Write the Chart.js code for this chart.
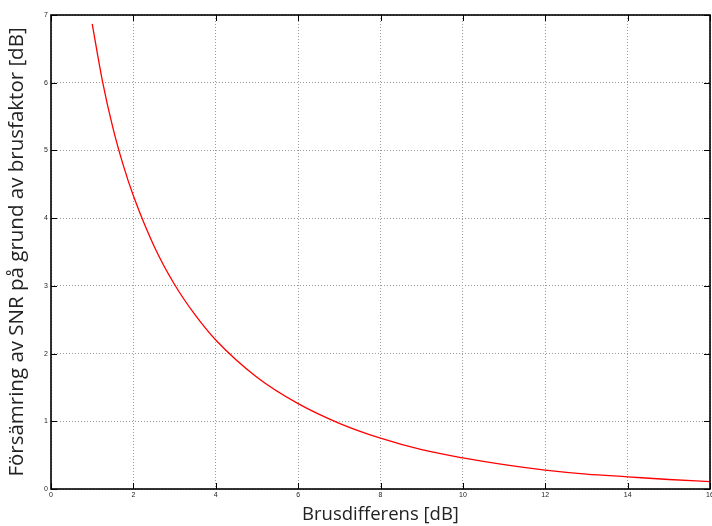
<!DOCTYPE html>
<html>
<head>
<meta charset="utf-8">
<script src="https://cdn.jsdelivr.net/npm/chart.js@4"></script>
<style>
  html, body { margin: 0; padding: 0; background: #fff; }
  canvas { display: block; }
</style>
</head>
<body>
<canvas id="chart" width="712" height="526"></canvas>
<script>
// --- Data ---
const brusdiff = [1, 1.25, 1.5, 1.75, 2, 2.5, 3, 3.5, 4, 5, 6, 7, 8, 9, 10, 11, 12, 13, 14, 15, 16];
const degradation = [6.87, 6.02, 5.34, 4.79, 4.33, 3.59, 3.02, 2.57, 2.20, 1.65, 1.26, 0.97, 0.75, 0.58, 0.46, 0.36, 0.28, 0.22, 0.18, 0.14, 0.11];
const xTicks = [0, 2, 4, 6, 8, 10, 12, 14, 16];
const yTicks = [0, 1, 2, 3, 4, 5, 6, 7];

const xTitle = 'Brusdifferens [dB]';
const yTitle = 'Försämring av SNR på grund av brusfaktor [dB]';

const X_TITLE_FONT = { family: "'Open Sans', sans-serif", size: 18.5 };
const Y_TITLE_FONT = { family: "'Open Sans', sans-serif", size: 20.5 };
const TICK_FONT = { family: "'Liberation Sans', Arial, sans-serif", size: 7 };

// frame + inward tick marks, like the matlab box
const framePlugin = {
    id: 'frame',
    afterDatasetsDraw(chart) {
        const { ctx, chartArea: a, scales } = chart;
        ctx.save();
        ctx.strokeStyle = '#000';
        ctx.lineWidth = 1;
        const len = 6;
        xTicks.forEach(v => {
            const px = Math.round(scales.x.getPixelForValue(v)) + 0.5;
            ctx.beginPath();
            ctx.moveTo(px, a.bottom); ctx.lineTo(px, a.bottom - len);
            ctx.moveTo(px, a.top); ctx.lineTo(px, a.top + len);
            ctx.stroke();
        });
        yTicks.forEach(v => {
            const py = Math.round(scales.y.getPixelForValue(v)) + 0.5;
            ctx.beginPath();
            ctx.moveTo(a.left, py); ctx.lineTo(a.left + len, py);
            ctx.moveTo(a.right, py); ctx.lineTo(a.right - len, py);
            ctx.stroke();
        });
        ctx.lineWidth = 1.6;
        ctx.strokeRect(a.left, a.top, a.right - a.left, a.bottom - a.top);
        ctx.restore();
    }
};

const points = brusdiff.map((x, i) => ({ x: x, y: degradation[i] }));

new Chart(document.getElementById('chart'), {
    type: 'line',
    data: {
        datasets: [{
            data: points,
            borderColor: '#ff0000',
            borderWidth: 1.3,
            pointRadius: 0,
            cubicInterpolationMode: 'monotone',
            fill: false
        }]
    },
    options: {
        responsive: false,
        animation: false,
        layout: { padding: { top: 15, right: 2, left: 0, bottom: 0 } },
        plugins: { legend: { display: false }, tooltip: { enabled: false } },
        scales: {
            x: {
                type: 'linear',
                min: 0, max: 16,
                afterBuildTicks: s => { s.ticks = xTicks.map(v => ({ value: v })); },
                afterFit: s => { s.height = 37; s.paddingLeft = 0; s.paddingRight = 0; },
                grid: { color: '#9a9a9a', lineWidth: 1, drawTicks: false },
                border: { display: false, dash: [1, 2] },
                ticks: { font: TICK_FONT, color: '#222', padding: 2, maxRotation: 0 },
                title: { display: true, text: xTitle, font: X_TITLE_FONT, color: '#222', padding: { top: 0, bottom: 0 } }
            },
            y: {
                type: 'linear',
                min: 0, max: 7,
                afterBuildTicks: s => { s.ticks = yTicks.map(v => ({ value: v })); },
                afterFit: s => { s.width = 51; s.paddingTop = 0; s.paddingBottom = 0; },
                grid: { color: '#9a9a9a', lineWidth: 1, drawTicks: false },
                border: { display: false, dash: [1, 2] },
                ticks: { font: TICK_FONT, color: '#222', padding: 3 },
                title: { display: true, text: yTitle, font: Y_TITLE_FONT, color: '#222', padding: { top: 5, bottom: 0 } }
            }
        }
    },
    plugins: [framePlugin]
});
</script>
</body>
</html>
